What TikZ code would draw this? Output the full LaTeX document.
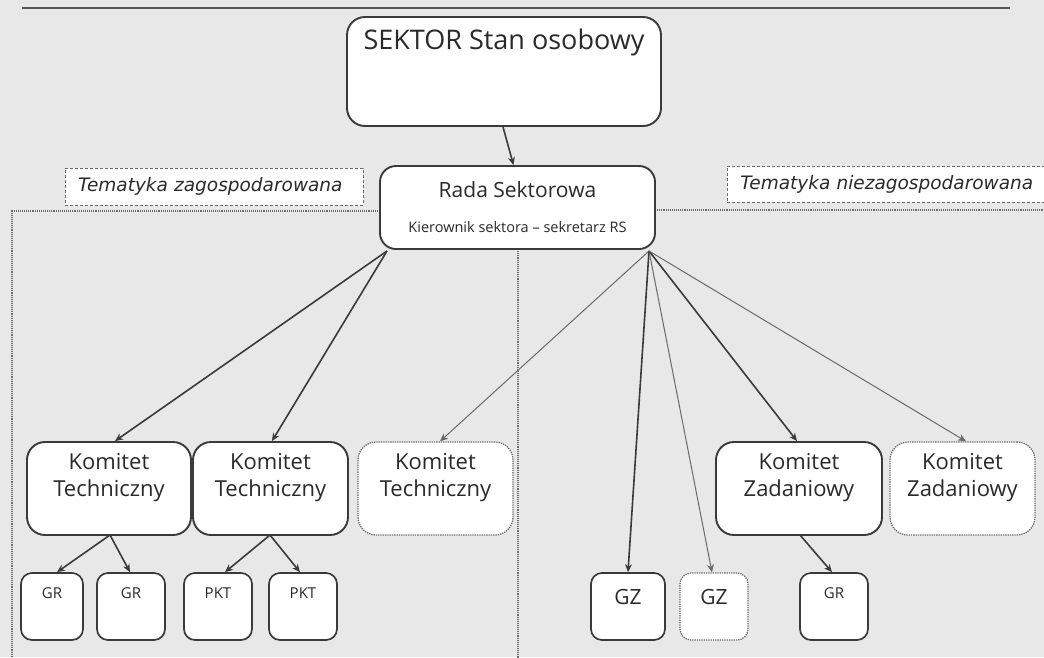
\documentclass[tikz,border=0pt]{standalone}
\usepackage{fontspec}
\setmainfont{Open Sans}
\newfontfamily\labfont{DejaVu Sans}
\usetikzlibrary{arrows.meta,calc}
\definecolor{bg}{HTML}{E8E8E8}
\definecolor{edge}{HTML}{3A3A3A}
\definecolor{thin}{HTML}{6A6A6A}
\definecolor{txt}{HTML}{2A2A2A}
\tikzset{
  box/.style={draw=edge,line width=1.9pt,fill=white,rounded corners=18pt,inner sep=0pt},
  dbox/.style={draw=thin,line width=1.3pt,densely dotted,fill=white,rounded corners=18pt,inner sep=0pt},
  sbox/.style={draw=edge,line width=1.7pt,fill=white,rounded corners=11pt,inner sep=0pt},
  sdbox/.style={draw=thin,line width=1.3pt,densely dotted,fill=white,rounded corners=11pt,inner sep=0pt},
  tag/.style={draw=thin,line width=0.9pt,densely dashed,fill=white,inner sep=0pt,font=\labfont\itshape\fontsize{18.5}{21}\selectfont,text=txt,align=left},
  thick arr/.style={draw=edge,line width=1.6pt,-{Stealth[length=8pt,width=7pt]}},
  thin arr/.style={draw=thin,line width=1pt,-{Stealth[length=8pt,width=7pt]}},
  region/.style={draw=thin,line width=1.1pt,densely dotted},
  kt/.style={anchor=center,yshift=-36.5pt,font=\fontsize{22}{27}\selectfont,text=txt,align=center},
  sm/.style={anchor=center,yshift=-21pt,font=\fontsize{15}{18}\selectfont,text=txt},
  smz/.style={anchor=center,yshift=-25pt,font=\fontsize{21}{24}\selectfont,text=txt}
}
\begin{document}
\begin{tikzpicture}[x=1pt,y=-1pt]
\useasboundingbox[fill=bg] (0,0) rectangle (1044,657);
% top rule
\draw[draw=thin!80!black,line width=2.6pt] (22,8) -- (1010,8);
% region lines
\draw[region] (380,211) -- (12,211) -- (12,660);
\draw[region] (655,210) -- (1050,210);
\draw[region] (518,249) -- (518,660);
% tags
\node[tag,minimum width=298pt,minimum height=37pt,text width=272pt] (tz) at (214,186.5) {Tematyka zagospodarowana};
\node[tag,minimum width=326pt,minimum height=36pt,anchor=west,text width=300pt] (tn) at (727,184) {Tematyka niezagospodarowana};
% main boxes
\node[box,minimum width=314pt,minimum height=109pt,
  label={[anchor=center,yshift=-26pt,font=\fontsize{27}{30}\selectfont,text=txt]north:SEKTOR Stan osobowy}] (sektor) at (504,71.5) {};
\node[box,minimum width=275pt,minimum height=83pt,rounded corners=16pt,
  label={[anchor=center,yshift=-25pt,font=\fontsize{21}{24}\selectfont,text=txt]north:Rada Sektorowa},
  label={[anchor=center,yshift=-62pt,font=\fontsize{14.5}{16}\selectfont,text=txt]north:Kierownik sektora – sekretarz RS}] (rada) at (517.5,207.5) {};
% komitety
\node[box,minimum width=164pt,minimum height=93pt,label={[kt]north:Komitet\\Techniczny}] (kt1) at (109,488.5) {};
\node[box,minimum width=155pt,minimum height=93pt,label={[kt]north:Komitet\\Techniczny}] (kt2) at (270.5,488.5) {};
\node[dbox,minimum width=155pt,minimum height=93pt,label={[kt]north:Komitet\\Techniczny}] (kt3) at (435.5,488.5) {};
\node[box,minimum width=166pt,minimum height=93pt,label={[kt]north:Komitet\\Zadaniowy}] (kz1) at (799,488.5) {};
\node[dbox,minimum width=145pt,minimum height=93pt,label={[kt]north:Komitet\\Zadaniowy}] (kz2) at (962.5,488.5) {};
% small boxes
\node[sbox,minimum width=62pt,minimum height=67pt,label={[sm]north:GR}] (gr1) at (52,606.5) {};
\node[sbox,minimum width=68pt,minimum height=67pt,label={[sm]north:GR}] (gr2) at (131,606.5) {};
\node[sbox,minimum width=68pt,minimum height=67pt,label={[sm]north:PKT}] (pkt1) at (218,606.5) {};
\node[sbox,minimum width=68pt,minimum height=67pt,label={[sm]north:PKT}] (pkt2) at (303,606.5) {};
\node[sbox,minimum width=74pt,minimum height=67pt,label={[smz]north:GZ}] (gz1) at (628,606.5) {};
\node[sdbox,minimum width=68pt,minimum height=67pt,label={[smz]north:GZ}] (gz2) at (714,606.5) {};
\node[sbox,minimum width=68pt,minimum height=67pt,label={[sm]north:GR}] (gr3) at (834,606.5) {};
% connector origins
\coordinate (rl) at (387,251);
\coordinate (rr) at (649,251);
\coordinate (k1b) at (110,535);
\coordinate (k2b) at (270,535);
\coordinate (kzb) at (800,535);
% connectors
\draw[thick arr] ($(sektor.south)+(-1,0)$) -- ($(rada.north)+(-4,0)$);
\draw[thick arr] (rl) -- (kt1.north -| 115,0);
\draw[thick arr] (rl) -- (kt2.north -| 272,0);
\draw[thin arr] (rr) -- (kt3.north -| 440,0);
\draw[thick arr] (rr) -- (gz1.north);
\draw[thin arr] (rr) -- (gz2.north -| 712,0);
\draw[thick arr] (rr) -- (kz1.north -| 797,0);
\draw[thin arr] (rr) -- (kz2.north -| 966,0);
\draw[thick arr] (k1b) -- (gr1.north -| 57,0);
\draw[thick arr] (k1b) -- (gr2.north -| 130,0);
\draw[thick arr] (k2b) -- (pkt1.north -| 225,0);
\draw[thick arr] (k2b) -- (pkt2.north -| 300,0);
\draw[thick arr] (kzb) -- (gr3.north -| 832,0);
\end{tikzpicture}
\end{document}
